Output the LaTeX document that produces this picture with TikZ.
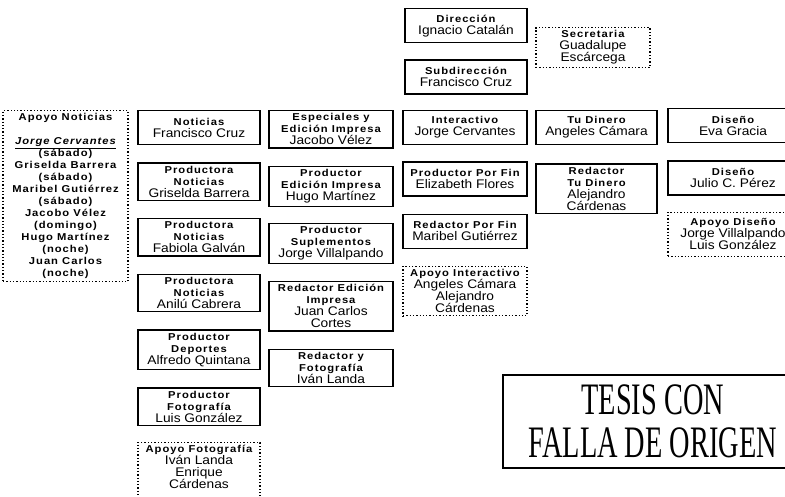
\documentclass[tikz,border=0pt]{standalone}
\usepackage{fontspec}
\setmainfont{Liberation Sans}[FakeStretch=1.1]
\newfontfamily\titfont{Liberation Sans}[FakeStretch=1.12,LetterSpace=10]
\newfontfamily\sellofont{Liberation Serif}[FakeStretch=0.63]
\usetikzlibrary{positioning}
\newcommand{\cab}[1]{{\titfont\bfseries\fontsize{10}{12}\selectfont #1}}
\tikzset{
%Define style for boxes
    caja/.style={
           rectangle,
           draw=black, line width=1.3pt,
           minimum width=122pt,
           minimum height=34pt,
           inner xsep=2pt, inner ysep=3pt,
           align=center,
           font=\fontsize{12.5}{12}\selectfont},
%Define style for support boxes
    apoyo/.style={
           caja,
           dotted, line width=1.1pt},
%Define style for the stamp
    sello/.style={
           rectangle,
           draw=black, line width=1.6pt,
           minimum width=300pt,
           minimum height=93pt,
           inner sep=0pt,
           align=center,
           font=\sellofont\fontsize{45}{43}\selectfont}
}

\begin{document}
\begin{tikzpicture}[x=1pt, y=-1pt, node distance=17pt]
 \useasboundingbox (0,0) rectangle (785,497);
 % top
 \node[caja, anchor=north] (dir) at (466,8) {\cab{Dirección}\\Ignacio Catalán};
 \node[caja, below=16pt of dir] (subdir) {\cab{Subdirección}\\Francisco Cruz};
 \node[apoyo, anchor=north, minimum width=114pt] (secre) at (593,27) {\cab{Secretaria}\\Guadalupe\\Escárcega};
 % apoyo noticias
 \node[apoyo, anchor=north, minimum width=125pt] (apnot) at (65.5,110) {\cab{Apoyo Noticias}\\[12pt]
   \cab{\itshape\underline{Jorge Cervantes}}\\\cab{(sábado)}\\\cab{Griselda Barrera}\\\cab{(sábado)}\\
   \cab{Maribel Gutiérrez}\\\cab{(sábado)}\\\cab{Jacobo Vélez}\\\cab{(domingo)}\\
   \cab{Hugo Martínez}\\\cab{(noche)}\\\cab{Juan Carlos}\\\cab{(noche)}};
 % noticias
 \node[caja, anchor=north] (noticias) at (199,110) {\cab{Noticias}\\Francisco Cruz};
 \node[caja, below=of noticias] (griselda) {\cab{Productora}\\\cab{Noticias}\\Griselda Barrera};
 \node[caja, below=of griselda] (fabiola) {\cab{Productora}\\\cab{Noticias}\\Fabiola Galván};
 \node[caja, below=of fabiola] (anilu) {\cab{Productora}\\\cab{Noticias}\\Anilú Cabrera};
 \node[caja, below=of anilu] (deportes) {\cab{Productor}\\\cab{Deportes}\\Alfredo Quintana};
 \node[caja, below=of deportes] (foto) {\cab{Productor}\\\cab{Fotografía}\\Luis González};
 \node[apoyo, below=16pt of foto, minimum height=64pt] (apfoto) {\cab{Apoyo Fotografía}\\Iván Landa\\Enrique\\Cárdenas\\[6pt]};
 % especiales
 \node[caja, anchor=north, minimum width=124pt] (especiales) at (331,110) {\cab{Especiales y}\\\cab{Edición Impresa}\\Jacobo Vélez};
 \node[caja, below=of especiales, minimum width=124pt] (hugo) {\cab{Productor}\\\cab{Edición Impresa}\\Hugo Martínez};
 \node[caja, below=16pt of hugo, minimum width=124pt] (suple) {\cab{Productor}\\\cab{Suplementos}\\Jorge Villalpando};
 \node[caja, below=of suple, minimum width=124pt] (juan) {\cab{Redactor Edición}\\\cab{Impresa}\\Juan Carlos\\Cortes};
 \node[caja, below=of juan, minimum width=124pt] (ivan) {\cab{Redactor y}\\\cab{Fotografía}\\Iván Landa};
 % interactivo
 \node[caja, anchor=north, minimum width=124pt] (inter) at (465,110) {\cab{Interactivo}\\Jorge Cervantes};
 \node[caja, below=16pt of inter, minimum width=124pt] (porfin) {\cab{Productor Por Fin}\\Elizabeth Flores};
 \node[caja, below=of porfin, minimum width=124pt] (redporfin) {\cab{Redactor Por Fin}\\Maribel Gutiérrez};
 \node[apoyo, below=of redporfin, minimum width=124pt] (apinter) {\cab{Apoyo Interactivo}\\Angeles Cámara\\Alejandro\\Cárdenas};
 % tu dinero
 \node[caja, anchor=north, minimum width=121pt] (dinero) at (596.5,110) {\cab{Tu Dinero}\\Angeles Cámara};
 \node[caja, below=18pt of dinero, minimum width=121pt] (reddinero) {\cab{Redactor}\\\cab{Tu Dinero}\\Alejandro\\Cárdenas};
 % diseno
 \node[caja, anchor=north, minimum width=130pt] (eva) at (733,108) {\cab{Diseño}\\Eva Gracia};
 \node[caja, below=of eva, minimum width=130pt] (julio) {\cab{Diseño}\\Julio C. Pérez};
 \node[apoyo, below=16pt of julio, minimum width=130pt, minimum height=44pt] (apdis) {\cab{Apoyo Diseño}\\Jorge Villalpando\\Luis González};
 % sello
 \node[sello, anchor=north west] (tesis) at (502,374) {TESIS CON\\FALLA DE ORIGEN};
\end{tikzpicture}
\end{document}
